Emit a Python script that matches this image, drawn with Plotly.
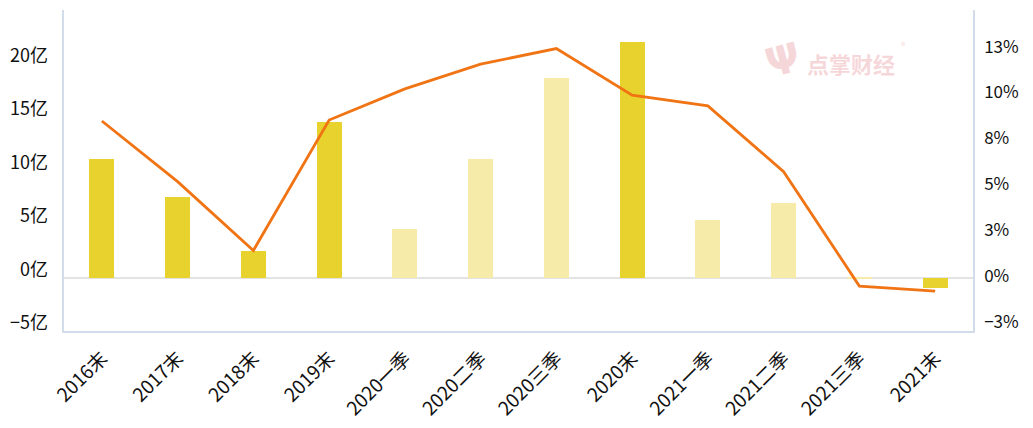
import plotly.graph_objects as go

categories = ["2016末", "2017末", "2018末", "2019末", "2020一季", "2020二季", "2020三季",
              "2020末", "2021一季", "2021二季", "2021三季", "2021末"]
bar_values = [11.05, 7.5, 2.5, 14.5, 4.5, 11.05, 18.6, 22.0, 5.4, 7.0, -0.15, -1.0]
bar_is_year_end = [True, True, True, True, False, False, False, True, False, False, False, True]
line_values = [8.45, 5.14, 1.39, 8.5, 10.2, 11.55, 12.4, 9.86, 9.27, 5.68, -0.55, -0.83]

left_tickvals = [-5, 0, 5, 10, 15, 20]
left_ticktext = ["−5亿", "0亿", "5亿", "10亿", "15亿", "20亿"]
right_tickvals = [-2.5, 0, 2.5, 5, 7.5, 10, 12.5]
right_ticktext = ["−3%", "0%", "3%", "5%", "8%", "10%", "13%"]

dark = "#E8D22E"
light = "#F6EBA8"
bar_colors = [dark if f else light for f in bar_is_year_end]

FONT = "Noto Sans CJK SC"
axis_line = "#D3DCEB"

fig = go.Figure()
fig.add_trace(go.Bar(x=categories, y=bar_values, marker=dict(color=bar_colors, line=dict(width=0)),
                     width=0.33, yaxis="y", showlegend=False))
fig.add_trace(go.Scatter(x=categories, y=line_values, mode="lines",
                         line=dict(color="#F07414", width=2.8), yaxis="y2", showlegend=False))
# invisible trace to carry the shifted left labels
fig.add_trace(go.Scatter(x=categories, y=[0] * len(categories), yaxis="y3", mode="markers",
                         marker=dict(opacity=0), showlegend=False, hoverinfo="skip"))

left_range = [-5, 25]
shift = 0.75
fig.update_layout(
    width=1033, height=428,
    margin=dict(l=64, r=60, t=10, b=97),
    paper_bgcolor="white", plot_bgcolor="white",
    font=dict(family=FONT, size=17, color="#222222"),
    bargap=0,
    xaxis=dict(type="category", tickangle=-45, showgrid=False, showline=True, automargin=False,
               linecolor=axis_line, linewidth=1.5, ticks="", tickfont=dict(size=19, color="#111111"),
               ticklabelstandoff=7, range=[-0.5, 11.5]),
    yaxis=dict(range=left_range, showgrid=False, zeroline=True, zerolinecolor="#E3E3E3",
               zerolinewidth=1.5, showline=True, linecolor=axis_line, linewidth=1.5,
               showticklabels=False, ticks="", automargin=False),
    yaxis3=dict(range=[left_range[0] - shift, left_range[1] - shift], overlaying="y", side="left",
                showgrid=False, zeroline=False, showline=False, tickvals=left_tickvals,
                ticktext=left_ticktext, ticks="", ticklabelstandoff=15, automargin=False,
                tickfont=dict(size=18, color="#111111")),
    yaxis2=dict(range=[-3, 14.5], overlaying="y", side="right", showgrid=False, zeroline=False,
                showline=True, linecolor=axis_line, linewidth=1.5, tickvals=right_tickvals,
                ticktext=right_ticktext, ticks="", ticklabelstandoff=6, automargin=False,
                tickfont=dict(size=17, color="#111111")),
)

wm = "rgba(238,175,180,0.5)"
fig.add_annotation(xref="paper", yref="paper", x=0.791, y=0.845, xanchor="center", yanchor="middle",
                   text="<b>Ψ</b>", showarrow=False, textangle=-15,
                   font=dict(family="DejaVu Sans", size=40, color=wm))
fig.add_annotation(xref="paper", yref="paper", x=0.866, y=0.835, xanchor="center", yanchor="middle",
                   text="<b>点掌财经</b>", showarrow=False,
                   font=dict(family=FONT, size=22, color=wm))
fig.add_annotation(xref="paper", yref="paper", x=0.923, y=0.89, xanchor="center", yanchor="middle",
                   text="®", showarrow=False,
                   font=dict(family=FONT, size=9, color=wm))

fig.write_html("out.html")
